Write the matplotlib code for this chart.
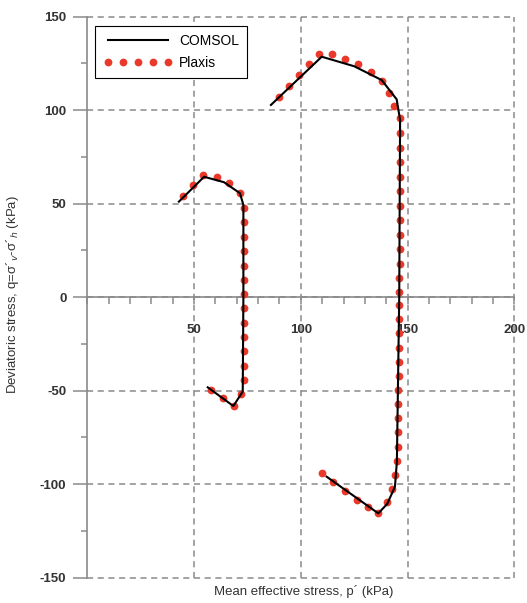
import numpy as np
import matplotlib
matplotlib.use('Agg')
import matplotlib.pyplot as plt
from matplotlib.ticker import MultipleLocator

plt.rcParams['font.family'] = ['Liberation Sans', 'DejaVu Sans']
plt.rcParams['axes.unicode_minus'] = False

# COMSOL curves (p', q) in kPa
comsol_small_p = [42.9, 54.7, 64.0, 71.5, 73.1, 73.1, 72.8, 68.4, 56.4]
comsol_small_q = [51.1, 64.4, 61.5, 55.6, 49.3, 0.0, -50.5, -58.2, -48.2]
comsol_big_p = [86.0, 109.8, 125.0, 137.9, 144.9, 146.5, 146.1, 145.0, 144.1, 140.5, 136.3, 112.1]
comsol_big_q = [102.8, 128.6, 123.5, 116.1, 105.8, 94.8, 0.0, -88.0, -101.3, -110.5, -115.6, -96.0]

# Plaxis points
plaxis_small_p = [45.0, 49.6, 54.3, 60.6, 66.5, 71.5,
                  73.5, 73.5, 73.5, 73.5, 73.5, 73.5, 73.5, 73.5, 73.5, 73.5, 73.5, 73.5, 73.4,
                  71.9, 68.7, 63.4, 57.9]
plaxis_small_q = [54.3, 60.0, 65.3, 64.4, 60.9, 55.6,
                  47.5, 40.1, 32.4, 24.7, 16.9, 9.2, 1.7, -5.9, -13.6, -21.3, -28.9, -36.6, -44.3,
                  -51.8, -58.2, -54.1, -49.6]
plaxis_big_p = [89.9, 94.5, 99.2, 103.8, 108.5, 114.5, 120.7, 126.9, 132.7, 137.9, 141.5, 143.7,
                146.5, 146.5, 146.5, 146.5, 146.5, 146.4, 146.4, 146.4, 146.3, 146.3, 146.3, 146.2, 146.2,
                146.1, 146.1, 146.0, 146.0, 145.9, 145.8, 145.7, 145.6, 145.5, 145.4, 145.3, 145.2,
                144.1, 142.6, 140.6, 136.3, 131.6, 126.2, 120.7, 115.2, 109.8]
plaxis_big_q = [107.2, 113.1, 118.8, 124.5, 129.9, 129.9, 127.4, 124.5, 120.6, 115.6, 109.0, 102.2,
                95.7, 87.6, 79.9, 72.1, 64.4, 56.8, 49.0, 41.3, 33.5, 25.8, 18.0, 10.3, 2.6,
                -4.0, -11.7, -19.3, -27.0, -34.7, -42.1, -49.6, -57.3, -64.8, -72.2, -79.9, -87.6,
                -95.1, -102.6, -109.4, -115.6, -112.0, -108.4, -103.5, -98.7, -93.9]

gray = '#8a8a8a'
red = '#e8392b'

fig = plt.figure(figsize=(5.27, 6.03), dpi=100)
ax = fig.add_axes([0.1657, 0.0420, 0.8102, 0.9303])

ax.plot(comsol_small_p, comsol_small_q, color='black', lw=1.5, zorder=4, label='COMSOL')
ax.plot(comsol_big_p, comsol_big_q, color='black', lw=1.5, zorder=4)
ax.plot(plaxis_small_p, plaxis_small_q, ls='none', marker='o', ms=5.6, color=red,
        mec='none', zorder=3, label='Plaxis')
ax.plot(plaxis_big_p, plaxis_big_q, ls='none', marker='o', ms=5.6, color=red, mec='none', zorder=3)

ax.set_xlim(0, 200)
ax.set_ylim(-150, 150)

ax.spines['top'].set_visible(False)
ax.spines['right'].set_visible(False)
ax.spines['bottom'].set_position(('data', 0))
for s in ('left', 'bottom'):
    ax.spines[s].set_color(gray)
    ax.spines[s].set_linewidth(1.2)

ax.set_xticks([50, 100, 150, 200])
ax.xaxis.set_minor_locator(MultipleLocator(10))
ax.set_yticks(np.arange(-150, 151, 50))
ax.yaxis.set_minor_locator(MultipleLocator(25))

ax.tick_params(axis='x', which='both', direction='out', length=5, width=1.1, color=gray,
               labelsize=9.5, pad=14)
ax.tick_params(axis='y', which='major', direction='out', length=10, width=1.1, color=gray,
               labelsize=9.5, pad=5)
ax.tick_params(axis='y', which='minor', direction='out', length=4.5, width=1.1, color=gray)
for lab in ax.get_yticklabels() + ax.get_xticklabels():
    lab.set_fontweight('bold')
    lab.set_color('#333333')

ax.grid(True, which='major', color=gray, lw=1.1, ls=(0, (4, 3)), zorder=1)
for gl in ax.get_xgridlines() + ax.get_ygridlines():
    gl.set_clip_on(False)

leg = ax.legend(loc='upper left', bbox_to_anchor=(0.019, 0.984), fontsize=10, numpoints=5,
                handlelength=4.9, fancybox=False, framealpha=1, edgecolor='black',
                borderpad=0.6, labelspacing=0.55, handletextpad=0.5, borderaxespad=0)
leg.get_frame().set_linewidth(0.8)

fig.text(0.577, 1 - 592 / 603, 'Mean effective stress, p\u00b4 (kPa)', ha='center', va='center',
         fontsize=9.5, color='#333333')
fig.text(0.024, 1 - 295 / 603, 'Deviatoric stress, q=\u03c3\u00b4$_{v}$-\u03c3\u00b4$_{h}$ (kPa)',
         ha='center', va='center', rotation=90, fontsize=9.5, color='#333333')

fig.savefig('out.png', dpi=100)
